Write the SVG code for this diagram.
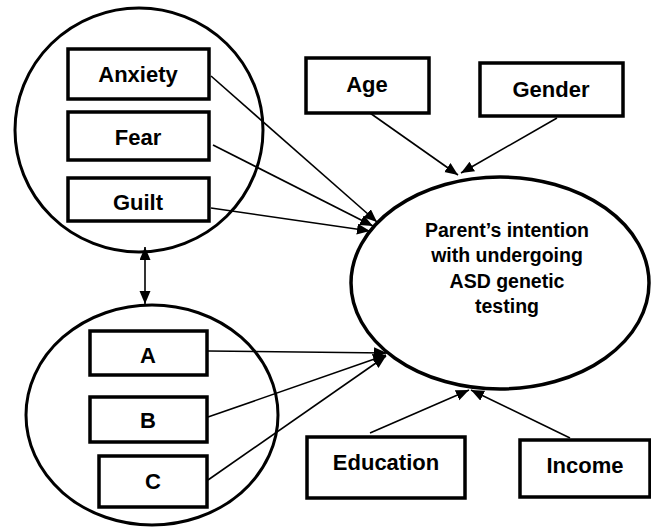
<svg xmlns="http://www.w3.org/2000/svg" width="651" height="527" viewBox="0 0 651 527">
<style>
.box{fill:#fff;stroke:#000;stroke-width:3.5}
.grp{fill:none;stroke:#000;stroke-width:3}
.main{fill:#fff;stroke:#000;stroke-width:3.5}
.lbl{font-family:"Liberation Sans",Arial,sans-serif;font-weight:bold;font-size:22px;text-anchor:middle;fill:#000}
.mt{font-family:"Liberation Sans",Arial,sans-serif;font-weight:bold;font-size:19.5px;text-anchor:middle;fill:#000}
.con line{stroke:#000;stroke-width:1.6;marker-end:url(#ah)}
</style>
<defs>
<marker id="ah" markerUnits="userSpaceOnUse" markerWidth="14" markerHeight="12" refX="13" refY="5.5" orient="auto-start-reverse">
<path d="M0,0 L13,5.5 L0,11 z" fill="#000"/>
</marker>
</defs>
<rect width="651" height="527" fill="#fff"/>
<g id="emotions">
<ellipse class="grp" cx="139" cy="130" rx="124" ry="122"/>
</g>
<g id="cognitions">
<ellipse class="grp" cx="152" cy="415" rx="126" ry="110"/>
</g>
<g id="intention">
<ellipse class="main" cx="500" cy="283" rx="149" ry="106"/>
<text class="mt" x="507" y="237">Parent’s intention</text>
<text class="mt" x="507" y="262">with undergoing</text>
<text class="mt" x="507" y="288">ASD genetic</text>
<text class="mt" x="507" y="313">testing</text>
</g>
<g id="anxiety"><rect class="box" x="68" y="49" width="141" height="50"/><text class="lbl" x="138" y="82">Anxiety</text></g>
<g id="fear"><rect class="box" x="68" y="112" width="141" height="48"/><text class="lbl" x="138" y="145">Fear</text></g>
<g id="guilt"><rect class="box" x="68" y="178" width="141" height="43"/><text class="lbl" x="138" y="210">Guilt</text></g>
<g id="a"><rect class="box" x="90" y="331" width="117" height="44"/><text class="lbl" x="148" y="363">A</text></g>
<g id="b"><rect class="box" x="90" y="397" width="117" height="45"/><text class="lbl" x="148" y="428">B</text></g>
<g id="c"><rect class="box" x="99" y="456" width="108" height="51"/><text class="lbl" x="153" y="489">C</text></g>
<g id="age"><rect class="box" x="306" y="58" width="123" height="55"/><text class="lbl" x="367" y="92">Age</text></g>
<g id="gender"><rect class="box" x="480" y="63" width="143" height="53"/><text class="lbl" x="551" y="97">Gender</text></g>
<g id="education"><rect class="box" x="307" y="437" width="158" height="61"/><text class="lbl" x="386" y="470">Education</text></g>
<g id="income"><rect class="box" x="520" y="440" width="130" height="57"/><text class="lbl" x="585" y="473">Income</text></g>
<g id="connectors" class="con">
<line x1="145" y1="304" x2="145" y2="247" style="marker-start:url(#ah)"/>
<line x1="211" y1="76" x2="377" y2="222"/>
<line x1="213" y1="145" x2="373" y2="226"/>
<line x1="211" y1="208" x2="370" y2="231"/>
<line x1="208" y1="351" x2="387" y2="353"/>
<line x1="208" y1="417" x2="386" y2="355"/>
<line x1="208" y1="480" x2="386" y2="356"/>
<line x1="370" y1="113" x2="458" y2="175"/>
<line x1="557" y1="118" x2="461" y2="173"/>
<line x1="370" y1="433" x2="469" y2="390"/>
<line x1="570" y1="438" x2="471" y2="390"/>
</g>
</svg>
